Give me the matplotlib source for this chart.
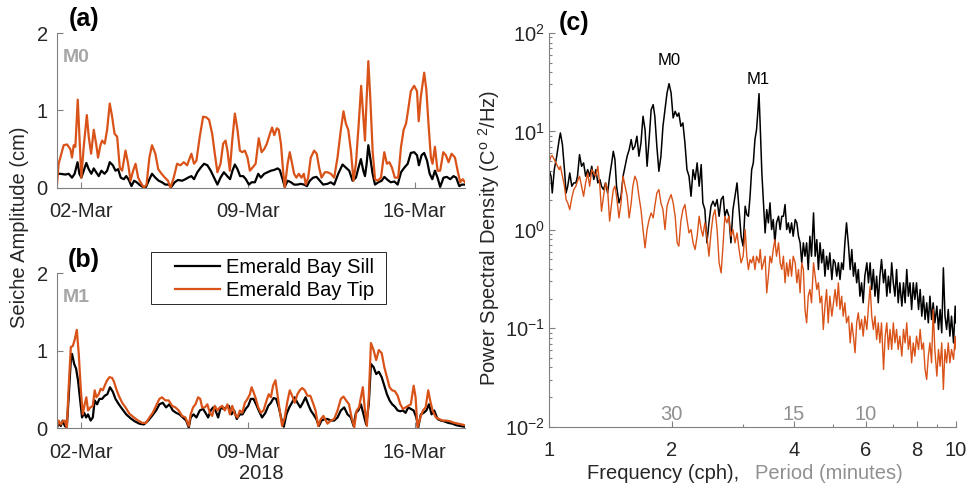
import numpy as np
import matplotlib
matplotlib.use('Agg')
import matplotlib.pyplot as plt
from matplotlib.patches import Rectangle
from matplotlib.ticker import FixedLocator, NullFormatter

plt.rcParams['font.family'] = ['Liberation Sans', 'DejaVu Sans']
plt.rcParams['mathtext.fontset'] = 'custom'
plt.rcParams['mathtext.rm'] = 'Liberation Sans'
plt.rcParams['mathtext.it'] = 'Liberation Sans:italic'
plt.rcParams['mathtext.default'] = 'regular'
plt.rcParams['font.size'] = 14.5

# ---------------- data: time series (days since 01-Mar-2018, amplitude in cm) ----------------
a_tip_day = [0.00, 0.08, 0.29, 0.43, 0.57, 0.64, 0.71, 0.78, 0.88, 0.96,
             1.03, 1.13, 1.26, 1.34, 1.44, 1.55, 1.65, 1.73, 1.83, 1.90,
             2.01, 2.11, 2.22, 2.32, 2.42, 2.53, 2.64, 2.74, 2.88, 2.99,
             3.09, 3.20, 3.30, 3.41, 3.51, 3.65, 3.76, 3.88, 3.99, 4.13,
             4.25, 4.39, 4.53, 4.66, 4.76, 4.90, 5.04, 5.18, 5.32, 5.46,
             5.64, 5.75, 5.85, 5.99, 6.13, 6.27, 6.38, 6.51, 6.62, 6.73,
             6.86, 6.97, 7.07, 7.15, 7.25, 7.35, 7.46, 7.57, 7.67, 7.77,
             7.88, 7.99, 8.09, 8.20, 8.33, 8.46, 8.58, 8.69, 8.80, 8.93,
             9.02, 9.11, 9.22, 9.30, 9.39, 9.48, 9.55, 9.67, 9.76, 9.86,
             9.94, 10.04, 10.14, 10.25, 10.35, 10.43, 10.53, 10.64, 10.78, 10.89,
             10.99, 11.09, 11.23, 11.34, 11.48, 11.62, 11.76, 11.90, 12.01, 12.11,
             12.21, 12.32, 12.43, 12.53, 12.64, 12.75, 12.84, 12.91, 12.96, 13.05,
             13.13, 13.23, 13.33, 13.44, 13.58, 13.72, 13.83, 13.93, 14.04, 14.16,
             14.30, 14.42, 14.53, 14.63, 14.72, 14.83, 14.97, 15.09, 15.16, 15.25,
             15.39, 15.48, 15.57, 15.67, 15.74, 15.84, 15.95, 16.06, 16.19, 16.30,
             16.41, 16.54, 16.68, 16.79, 16.90, 17.00, 17.10]
a_tip = [0.00, 0.31, 0.55, 0.56, 0.50, 0.39, 0.55, 0.53, 1.14, 0.61,
         0.13, 0.53, 0.94, 0.66, 0.44, 0.75, 0.57, 0.39, 0.55, 0.61,
         0.57, 0.75, 1.09, 0.92, 0.70, 0.66, 0.26, 0.22, 0.48, 0.31,
         0.09, 0.22, 0.31, 0.13, 0.07, 0.00, 0.04, 0.39, 0.55, 0.44,
         0.24, 0.18, 0.13, 0.09, 0.00, 0.13, 0.31, 0.29, 0.33, 0.29,
         0.44, 0.31, 0.35, 0.66, 0.92, 0.91, 0.88, 0.70, 0.44, 0.20,
         0.31, 0.57, 0.61, 0.48, 0.22, 0.61, 0.96, 0.75, 0.48, 0.46,
         0.48, 0.39, 0.22, 0.26, 0.31, 0.64, 0.46, 0.50, 0.57, 0.70,
         0.78, 0.68, 0.77, 0.75, 0.57, 0.22, 0.00, 0.31, 0.46, 0.31,
         0.18, 0.13, 0.18, 0.13, 0.18, 0.04, 0.13, 0.39, 0.48, 0.44,
         0.26, 0.13, 0.20, 0.20, 0.18, 0.13, 0.39, 0.75, 0.99, 0.83,
         0.75, 0.48, 0.09, 0.31, 0.79, 1.32, 0.92, 0.61, 1.01, 1.64,
         1.18, 0.48, 0.11, 0.09, 0.13, 0.46, 0.31, 0.33, 0.26, 0.13,
         0.13, 0.53, 0.75, 0.83, 1.01, 1.25, 1.32, 1.25, 0.86, 1.18,
         1.49, 1.27, 0.83, 0.39, 0.31, 0.53, 0.22, 0.22, 0.46, 0.42,
         0.33, 0.44, 0.39, 0.22, 0.07, 0.11, 0.07]

a_sill_day = [0.00, 0.15, 0.36, 0.50, 0.64, 0.75, 0.87, 0.95, 1.03, 1.13,
              1.24, 1.34, 1.45, 1.55, 1.65, 1.76, 1.87, 2.00, 2.11, 2.22,
              2.35, 2.46, 2.57, 2.68, 2.81, 2.91, 3.02, 3.13, 3.24, 3.35,
              3.46, 3.60, 3.74, 3.88, 3.99, 4.13, 4.27, 4.41, 4.55, 4.69,
              4.80, 4.94, 5.08, 5.25, 5.39, 5.50, 5.64, 5.75, 5.89, 6.03,
              6.17, 6.31, 6.45, 6.59, 6.73, 6.86, 7.00, 7.14, 7.26, 7.36,
              7.46, 7.57, 7.68, 7.81, 7.92, 8.05, 8.16, 8.30, 8.44, 8.55,
              8.69, 8.83, 8.97, 9.11, 9.25, 9.34, 9.46, 9.55, 9.67, 9.81,
              9.94, 10.08, 10.22, 10.36, 10.48, 10.60, 10.74, 10.88, 11.02, 11.16,
              11.34, 11.48, 11.62, 11.79, 11.97, 12.11, 12.25, 12.39, 12.53, 12.64,
              12.74, 12.84, 12.91, 12.98, 13.05, 13.13, 13.23, 13.33, 13.47, 13.61,
              13.72, 13.86, 13.99, 14.14, 14.28, 14.42, 14.56, 14.70, 14.83, 14.97,
              15.09, 15.17, 15.28, 15.39, 15.51, 15.62, 15.73, 15.84, 15.95, 16.06,
              16.20, 16.34, 16.48, 16.62, 16.73, 16.86, 16.97, 17.10]
a_sill = [0.18, 0.18, 0.17, 0.18, 0.13, 0.18, 0.33, 0.18, 0.13, 0.22,
          0.32, 0.24, 0.18, 0.25, 0.20, 0.15, 0.22, 0.18, 0.22, 0.33,
          0.29, 0.22, 0.24, 0.13, 0.11, 0.15, 0.10, 0.02, 0.09, 0.07,
          0.04, 0.01, 0.01, 0.11, 0.18, 0.13, 0.09, 0.07, 0.04, 0.04,
          0.01, 0.07, 0.10, 0.09, 0.11, 0.13, 0.15, 0.11, 0.20, 0.26,
          0.31, 0.29, 0.22, 0.13, 0.04, 0.13, 0.20, 0.15, 0.11, 0.22,
          0.30, 0.24, 0.15, 0.15, 0.11, 0.04, 0.07, 0.07, 0.18, 0.13,
          0.18, 0.20, 0.22, 0.23, 0.25, 0.23, 0.11, 0.01, 0.09, 0.07,
          0.04, 0.04, 0.05, 0.04, 0.02, 0.09, 0.13, 0.14, 0.09, 0.04,
          0.05, 0.07, 0.04, 0.18, 0.30, 0.26, 0.22, 0.09, 0.13, 0.26,
          0.37, 0.22, 0.15, 0.31, 0.55, 0.39, 0.18, 0.04, 0.07, 0.09,
          0.14, 0.10, 0.07, 0.08, 0.04, 0.20, 0.26, 0.31, 0.45, 0.46,
          0.42, 0.29, 0.42, 0.45, 0.35, 0.18, 0.11, 0.22, 0.13, 0.01,
          0.13, 0.14, 0.11, 0.15, 0.13, 0.02, 0.04, 0.04]

b_tip_day = [0.00, 0.08, 0.17, 0.25, 0.34, 0.42, 0.50, 0.59, 0.67, 0.75,
             0.84, 0.92, 1.01, 1.09, 1.17, 1.24, 1.31, 1.41, 1.51, 1.59,
             1.66, 1.76, 1.84, 1.93, 2.01, 2.11, 2.21, 2.32, 2.40, 2.49,
             2.60, 2.74, 2.88, 3.04, 3.23, 3.41, 3.58, 3.74, 3.88, 4.02,
             4.16, 4.30, 4.41, 4.55, 4.69, 4.83, 4.97, 5.11, 5.25, 5.39,
             5.53, 5.61, 5.71, 5.81, 5.92, 6.01, 6.09, 6.20, 6.31, 6.41,
             6.51, 6.62, 6.73, 6.83, 6.93, 7.04, 7.15, 7.25, 7.35, 7.46,
             7.57, 7.67, 7.77, 7.88, 7.99, 8.09, 8.16, 8.24, 8.34, 8.44,
             8.55, 8.66, 8.79, 8.88, 8.97, 9.06, 9.16, 9.25, 9.34, 9.44,
             9.55, 9.65, 9.76, 9.86, 9.97, 10.08, 10.18, 10.28, 10.39, 10.50,
             10.62, 10.73, 10.84, 10.95, 11.06, 11.17, 11.34, 11.48, 11.62, 11.76,
             11.90, 12.01, 12.12, 12.24, 12.35, 12.46, 12.56, 12.66, 12.74, 12.82,
             12.91, 12.99, 13.07, 13.16, 13.27, 13.38, 13.49, 13.61, 13.72, 13.83,
             13.94, 14.05, 14.16, 14.28, 14.39, 14.50, 14.61, 14.72, 14.83, 14.95,
             15.03, 15.11, 15.23, 15.34, 15.45, 15.56, 15.64, 15.74, 15.88, 16.02,
             16.16, 16.30, 16.48, 16.65, 16.82, 16.96, 17.10]
b_tip = [0.00, 0.10, 0.05, 0.09, 0.10, 0.00, 0.53, 1.05, 1.06, 1.14,
         1.27, 0.97, 0.49, 0.18, 0.31, 0.40, 0.23, 0.27, 0.29, 0.49,
         0.40, 0.44, 0.51, 0.49, 0.55, 0.62, 0.66, 0.65, 0.60, 0.51,
         0.42, 0.33, 0.27, 0.19, 0.14, 0.10, 0.07, 0.07, 0.14, 0.20,
         0.29, 0.38, 0.40, 0.36, 0.36, 0.29, 0.27, 0.23, 0.16, 0.14,
         0.03, 0.18, 0.27, 0.31, 0.40, 0.38, 0.27, 0.27, 0.31, 0.20,
         0.16, 0.29, 0.23, 0.27, 0.29, 0.23, 0.31, 0.18, 0.29, 0.18,
         0.14, 0.23, 0.20, 0.33, 0.38, 0.44, 0.53, 0.47, 0.38, 0.27,
         0.20, 0.23, 0.36, 0.44, 0.40, 0.55, 0.62, 0.42, 0.23, 0.03,
         0.14, 0.33, 0.49, 0.42, 0.33, 0.44, 0.49, 0.52, 0.49, 0.42,
         0.42, 0.33, 0.23, 0.03, 0.12, 0.16, 0.06, 0.10, 0.12, 0.23,
         0.38, 0.41, 0.36, 0.31, 0.14, 0.01, 0.23, 0.27, 0.40, 0.53,
         0.23, 0.03, 0.40, 1.10, 1.01, 0.88, 1.01, 0.97, 0.79, 0.66,
         0.53, 0.49, 0.48, 0.42, 0.31, 0.25, 0.27, 0.29, 0.31, 0.55,
         0.40, 0.01, 0.14, 0.23, 0.27, 0.49, 0.36, 0.23, 0.14, 0.12,
         0.10, 0.10, 0.09, 0.07, 0.06, 0.05, 0.04]

b_sill_day = [0.00, 0.08, 0.17, 0.25, 0.34, 0.42, 0.50, 0.59, 0.64, 0.73,
              0.81, 0.89, 0.98, 1.06, 1.15, 1.23, 1.31, 1.42, 1.51, 1.59,
              1.69, 1.79, 1.90, 2.01, 2.12, 2.23, 2.35, 2.46, 2.60, 2.74,
              2.91, 3.09, 3.27, 3.46, 3.65, 3.83, 3.99, 4.16, 4.30, 4.44,
              4.58, 4.72, 4.86, 5.00, 5.14, 5.28, 5.42, 5.53, 5.61, 5.73,
              5.85, 5.99, 6.13, 6.23, 6.34, 6.45, 6.55, 6.65, 6.76, 6.87,
              6.98, 7.10, 7.21, 7.32, 7.43, 7.54, 7.67, 7.78, 7.91, 8.02,
              8.13, 8.24, 8.35, 8.46, 8.60, 8.74, 8.86, 8.97, 9.08, 9.19,
              9.30, 9.41, 9.51, 9.62, 9.74, 9.85, 9.97, 10.08, 10.20, 10.31,
              10.42, 10.53, 10.64, 10.75, 10.87, 10.98, 11.09, 11.23, 11.34, 11.48,
              11.62, 11.76, 11.90, 12.04, 12.18, 12.32, 12.43, 12.53, 12.63, 12.74,
              12.85, 12.96, 13.07, 13.16, 13.27, 13.38, 13.49, 13.61, 13.72, 13.83,
              13.94, 14.05, 14.16, 14.28, 14.39, 14.50, 14.61, 14.72, 14.83, 14.95,
              15.06, 15.14, 15.25, 15.37, 15.48, 15.59, 15.70, 15.81, 15.95, 16.09,
              16.23, 16.40, 16.57, 16.73, 16.90, 17.10]
b_sill = [0.00, 0.07, 0.03, 0.10, 0.03, 0.01, 0.40, 0.88, 0.96, 0.83,
          0.77, 0.62, 0.36, 0.14, 0.20, 0.14, 0.18, 0.10, 0.14, 0.36,
          0.31, 0.38, 0.38, 0.42, 0.44, 0.53, 0.47, 0.38, 0.31, 0.25,
          0.18, 0.13, 0.09, 0.06, 0.05, 0.10, 0.16, 0.23, 0.31, 0.33,
          0.27, 0.31, 0.23, 0.20, 0.18, 0.14, 0.10, 0.01, 0.14, 0.18,
          0.14, 0.23, 0.25, 0.20, 0.14, 0.23, 0.27, 0.23, 0.14, 0.27,
          0.25, 0.27, 0.29, 0.18, 0.23, 0.12, 0.18, 0.18, 0.25, 0.29,
          0.38, 0.38, 0.31, 0.23, 0.14, 0.20, 0.29, 0.33, 0.39, 0.38,
          0.27, 0.12, 0.02, 0.18, 0.27, 0.33, 0.40, 0.33, 0.27, 0.33,
          0.40, 0.31, 0.23, 0.18, 0.12, 0.03, 0.10, 0.12, 0.12, 0.10,
          0.10, 0.14, 0.23, 0.27, 0.18, 0.14, 0.03, 0.20, 0.23, 0.31,
          0.18, 0.05, 0.31, 0.83, 0.79, 0.70, 0.73, 0.66, 0.55, 0.44,
          0.36, 0.31, 0.28, 0.23, 0.22, 0.23, 0.20, 0.27, 0.25, 0.23,
          0.14, 0.01, 0.18, 0.20, 0.23, 0.31, 0.18, 0.23, 0.12, 0.10,
          0.09, 0.07, 0.06, 0.04, 0.03, 0.02]

date_ticks = [1, 8, 15]
date_labels = ['02-Mar', '09-Mar', '16-Mar']

# ---------------- data: spectra (log10 values) ----------------
log_freq = [0.000, 0.005, 0.008, 0.013, 0.019, 0.025, 0.028, 0.033, 0.038, 0.042,
            0.046, 0.051, 0.056, 0.061, 0.066, 0.070, 0.075, 0.080, 0.085, 0.090,
            0.095, 0.100, 0.105, 0.110, 0.115, 0.120, 0.125, 0.129, 0.134, 0.139,
            0.144, 0.149, 0.154, 0.158, 0.162, 0.166, 0.172, 0.177, 0.182, 0.187,
            0.192, 0.197, 0.202, 0.206, 0.211, 0.216, 0.221, 0.226, 0.231, 0.236,
            0.241, 0.246, 0.251, 0.256, 0.260, 0.265, 0.270, 0.275, 0.280, 0.285,
            0.290, 0.295, 0.300, 0.305, 0.310, 0.315, 0.319, 0.324, 0.329, 0.334,
            0.339, 0.344, 0.349, 0.354, 0.359, 0.364, 0.369, 0.374, 0.378, 0.383,
            0.388, 0.393, 0.398, 0.403, 0.408, 0.413, 0.418, 0.423, 0.428, 0.432,
            0.437, 0.442, 0.447, 0.452, 0.457, 0.462, 0.467, 0.472, 0.477,
            0.482, 0.486, 0.490, 0.494, 0.498, 0.502, 0.506, 0.510, 0.513, 0.516,
            0.519, 0.523, 0.527, 0.531, 0.535, 0.539, 0.543, 0.547, 0.551, 0.555,
            0.559, 0.564, 0.568, 0.572, 0.576, 0.580, 0.584, 0.588, 0.592, 0.596,
            0.600, 0.605, 0.609, 0.613, 0.617, 0.621, 0.625, 0.629, 0.633, 0.637,
            0.641, 0.645, 0.650, 0.654, 0.658, 0.662, 0.666, 0.670, 0.674, 0.678,
            0.682, 0.686, 0.690, 0.695, 0.699, 0.703, 0.707, 0.711, 0.715, 0.719,
            0.723, 0.727, 0.731, 0.736, 0.740, 0.744, 0.748, 0.752, 0.756, 0.760,
            0.764, 0.768, 0.772, 0.776, 0.781, 0.785, 0.789, 0.793, 0.797, 0.801,
            0.805, 0.809, 0.813, 0.817, 0.822, 0.826, 0.830, 0.834, 0.838, 0.842,
            0.846, 0.850, 0.854, 0.858, 0.862, 0.867, 0.871, 0.875, 0.879, 0.883,
            0.887, 0.891, 0.895, 0.899, 0.903, 0.908, 0.912, 0.916, 0.920, 0.924,
            0.928, 0.932, 0.936, 0.940, 0.944, 0.948, 0.953, 0.957, 0.961, 0.965,
            0.969, 0.973, 0.977, 0.981, 0.985, 0.989, 0.994, 0.998, 1.000]
log_psd_sill = [0.612, 0.545, 0.375, 0.612, 0.748, 0.917, 0.984, 0.866, 0.612, 0.375,
                0.443, 0.578, 0.443, 0.477, 0.477, 0.545, 0.764, 0.646, 0.680, 0.545,
                0.612, 0.545, 0.646, 0.511, 0.612, 0.477, 0.511, 0.443, 0.409, 0.477,
                0.375, 0.545, 0.680, 0.798, 0.714, 0.443, 0.274, 0.341, 0.545, 0.646,
                0.748, 0.815, 0.917, 0.815, 0.849, 0.951, 0.748, 0.883, 1.154, 1.018,
                0.646, 0.917, 1.221, 1.272, 1.154, 0.849, 0.595, 0.748, 1.052, 1.221,
                1.391, 1.485, 1.391, 1.137, 1.204, 1.154, 1.187, 1.052, 1.086, 0.883,
                0.612, 0.545, 0.341, 0.612, 0.511, 0.680, 0.443, 0.663, 0.274, 0.206,
                -0.132, 0.071, 0.240, 0.291, 0.240, 0.308, 0.138, 0.308, 0.341, 0.138,
                0.206, 0.138, -0.132, 0.206, 0.341, 0.477, 0.206, -0.065, -0.166,
                0.240, 0.155, 0.138, 0.341, 0.612, 0.680, 0.917, 1.020, 1.190, 1.384,
                1.052, 0.578, 0.274, -0.031, 0.206, 0.071, 0.274, 0.003, 0.105, -0.132,
                0.071, 0.138, 0.003, 0.138, 0.138, 0.257, 0.003, 0.071, -0.031, 0.071,
                -0.065, 0.105, 0.071, -0.065, -0.132, -0.335, -0.132, -0.268, -0.132, -0.403,
                -0.065, -0.268, 0.172, -0.268, -0.099, -0.403, -0.132, -0.335, -0.200, -0.471,
                -0.268, -0.403, -0.234, -0.505, -0.302, -0.335, -0.471, -0.335, -0.505, -0.335,
                -0.403, -0.132, 0.071, -0.166, -0.403, -0.200, -0.471, -0.335, -0.538, -0.403,
                -0.674, -0.538, -0.741, -0.471, -0.335, -0.538, -0.335, -0.606, -0.403, -0.674,
                -0.471, -0.741, -0.471, -0.302, -0.538, -0.403, -0.674, -0.471, -0.640, -0.335,
                -0.538, -0.674, -0.403, -0.741, -0.538, -0.775, -0.538, -0.741, -0.403, -0.674,
                -0.538, -0.809, -0.538, -0.707, -0.538, -0.809, -0.606, -0.877, -0.674, -0.911,
                -0.741, -0.945, -0.674, -0.911, -0.741, -0.945, -0.775, -1.012, -0.809, -1.046,
                -0.386, -0.877, -1.012, -0.809, -1.080, -0.877, -1.148, -0.775, -0.945]
log_psd_tip = [0.680, 0.748, 0.754, 0.714, 0.663, 0.612, 0.646, 0.545, 0.443, 0.308,
               0.274, 0.206, 0.325, 0.409, 0.443, 0.494, 0.545, 0.443, 0.341, 0.477,
               0.578, 0.443, 0.612, 0.578, 0.545, 0.646, 0.443, 0.189, 0.341, 0.477,
               0.409, 0.088, 0.274, 0.409, 0.443, 0.341, 0.121, 0.274, 0.545, 0.443,
               0.341, 0.121, 0.274, 0.443, 0.545, 0.494, 0.341, 0.206, 0.003, -0.183,
               0.003, 0.105, 0.172, 0.121, 0.240, 0.375, 0.409, 0.274, 0.206, 0.003,
               0.240, 0.308, 0.358, 0.274, 0.138, -0.132, -0.166, 0.088, 0.206, 0.257,
               0.105, -0.031, 0.003, -0.132, -0.200, -0.065, 0.138, 0.003, -0.065, 0.071,
               -0.065, -0.268, -0.031, 0.138, 0.206, 0.003, -0.335, -0.437, -0.132, 0.138,
               0.071, 0.138, -0.065, 0.003, -0.132, -0.031, -0.200, -0.335, -0.268,
               0.003, -0.268, -0.403, -0.302, -0.335, -0.268, -0.403, -0.268, -0.300, -0.335,
               -0.200, -0.403, -0.335, -0.268, -0.640, -0.471, -0.268, -0.335, -0.200, -0.099,
               -0.268, -0.132, -0.335, -0.403, -0.268, -0.538, -0.335, -0.471, -0.302, -0.471,
               -0.268, -0.335, -0.538, -0.403, -0.640, -0.335, -0.403, -0.809, -0.945, -0.674,
               -0.606, -0.741, -0.335, -0.471, -0.606, -0.538, -0.741, -0.674, -1.012, -0.775,
               -0.606, -0.945, -0.674, -0.877, -0.741, -0.606, -0.775, -0.538, -0.809, -0.674,
               -0.877, -0.741, -0.945, -0.877, -1.148, -0.945, -1.080, -1.249, -0.945, -0.843,
               -1.012, -0.911, -1.080, -0.877, -1.012, -0.775, -0.572, -0.877, -1.012, -0.877,
               -1.114, -0.945, -1.148, -0.945, -1.418, -1.080, -0.945, -1.215, -1.012, -1.215,
               -0.945, -1.148, -1.012, -1.215, -1.080, -1.283, -1.012, -1.148, -0.945, -1.215,
               -1.080, -1.351, -1.148, -1.283, -1.080, -1.215, -1.012, -1.215, -1.148, -1.418,
               -1.520, -1.283, -1.148, -1.351, -0.809, -1.215, -1.486, -1.215, -1.385, -1.148,
               -1.621, -1.215, -1.351, -1.148, -1.351, -1.215, -1.317, -1.080, -1.215]

period_minutes = [30, 15, 10]
freq_ticks = [1, 2, 4, 6, 8, 10]
freq_minor = [3, 5, 7, 9]

assert len(a_tip_day) == len(a_tip) and len(a_sill_day) == len(a_sill)
assert len(b_tip_day) == len(b_tip) and len(b_sill_day) == len(b_sill)
assert len(log_freq) == len(log_psd_sill) == len(log_psd_tip)

sill_color = 'black'
tip_color = '#D95319'
axis_grey = '#808080'
text_dark = '#262626'
light_grey = '#A6A6A6'
period_grey = '#909090'

W, H = 980, 488
fig = plt.figure(figsize=(W / 100, H / 100), dpi=100)


def px(x, y):
    # pixel position (from top-left) -> figure fraction
    return x / W, 1 - y / H


def style_axes(ax, pad_x, pad_y):
    for s in ['top', 'right']:
        ax.spines[s].set_visible(False)
    for s in ['left', 'bottom']:
        ax.spines[s].set_color(axis_grey)
        ax.spines[s].set_linewidth(0.8)
    ax.tick_params(which='both', direction='in', color=axis_grey, labelcolor=text_dark, width=0.8)
    ax.tick_params(which='major', length=4)
    ax.tick_params(which='minor', length=2.5)
    ax.tick_params(axis='x', pad=pad_x)
    ax.tick_params(axis='y', pad=pad_y)


# -------------------------- (a) M0 --------------------------
ax_a = fig.add_axes([0.0579, 0.6154, 0.4166, 0.3164])
ax_a.plot(a_sill_day, a_sill, color=sill_color, lw=1.6)
ax_a.plot(a_tip_day, a_tip, color=tip_color, lw=1.6)

# -------------------------- (b) M1 --------------------------
ax_b = fig.add_axes([0.0579, 0.1223, 0.4166, 0.3177])
l_sill, = ax_b.plot(b_sill_day, b_sill, color=sill_color, lw=1.6, label='Emerald Bay Sill')
l_tip, = ax_b.plot(b_tip_day, b_tip, color=tip_color, lw=1.6, label='Emerald Bay Tip')

for ax in (ax_a, ax_b):
    ax.set_xlim(0, 17.1)
    ax.set_ylim(0, 2)
    ax.set_yticks([0, 1, 2])
    ax.set_xticks(date_ticks)
    ax.set_xticklabels(date_labels)
    style_axes(ax, pad_x=10.5, pad_y=6.5)

fig.text(*px(63, 57), 'M0', color=light_grey, fontweight='bold', fontsize=14, ha='left', va='center')
fig.text(*px(63, 297), 'M1', color=light_grey, fontweight='bold', fontsize=14, ha='left', va='center')
fig.text(*px(84, 19), '(a)', fontweight='bold', fontsize=18, ha='center', va='center')
fig.text(*px(84, 260), '(b)', fontweight='bold', fontsize=18, ha='center', va='center')
fig.text(*px(20, 227), 'Seiche Amplitude (cm)', rotation=90, ha='center', va='center', color=text_dark)
fig.text(*px(261, 479), '2018', ha='center', va='baseline', color=text_dark)

# legend: frame drawn separately (MATLAB-like spacing)
fig.patches.append(Rectangle(px(151, 304), 235 / W, 52 / H, transform=fig.transFigure,
                             fill=False, edgecolor=text_dark, lw=0.7))
fig.legend(handles=[l_sill, l_tip], loc='upper left', bbox_to_anchor=px(175, 258),
           bbox_transform=fig.transFigure, frameon=False, borderpad=0, borderaxespad=0,
           handlelength=2.25, handletextpad=0.3, labelspacing=0.22, fontsize=14.5)

# -------------------------- (c) spectra --------------------------
ax_c = fig.add_axes([0.5602, 0.1256, 0.4153, 0.8068])
freq = 10 ** np.array(log_freq)
ax_c.plot(freq, 10 ** np.array(log_psd_sill), color=sill_color, lw=1.1)
ax_c.plot(freq, 10 ** np.array(log_psd_tip), color=tip_color, lw=1.0)
ax_c.set_xscale('log')
ax_c.set_yscale('log')
ax_c.set_xlim(1, 10)
ax_c.set_ylim(1e-2, 1e2)
ax_c.xaxis.set_major_locator(FixedLocator(freq_ticks))
ax_c.set_xticklabels([str(f) for f in freq_ticks])
ax_c.xaxis.set_minor_locator(FixedLocator(freq_minor))
ax_c.xaxis.set_minor_formatter(NullFormatter())
ydec = [-2, -1, 0, 1, 2]
ax_c.yaxis.set_major_locator(FixedLocator([10.0 ** d for d in ydec]))
ax_c.set_yticklabels(['$10^{%d}$' % d for d in ydec])
ax_c.yaxis.set_minor_locator(FixedLocator([k * 10.0 ** d for d in ydec[:-1] for k in range(2, 10)]))
ax_c.yaxis.set_minor_formatter(NullFormatter())
style_axes(ax_c, pad_x=10.5, pad_y=3)

for p in period_minutes:
    ax_c.text(60 / p, 10 ** -1.878, str(p), color=period_grey, ha='center', va='center', fontsize=14.5)

ax_c.text(1.97, 52, 'M0', ha='center', va='center', fontsize=12)
ax_c.text(3.26, 33.6, 'M1', ha='center', va='center', fontsize=12)

fig.text(*px(574, 23), '(c)', fontweight='bold', fontsize=18, ha='center', va='center')
fig.text(*px(489, 238), 'Power Spectral Density (C$^{o}$ $^{2}$/Hz)', rotation=90,
         ha='center', va='center', color=text_dark)
fig.text(*px(587, 479), 'Frequency (cph),', ha='left', va='baseline', color=text_dark)
fig.text(*px(755, 479), 'Period (minutes)', ha='left', va='baseline', color=period_grey)

fig.savefig('out.png', dpi=100)
